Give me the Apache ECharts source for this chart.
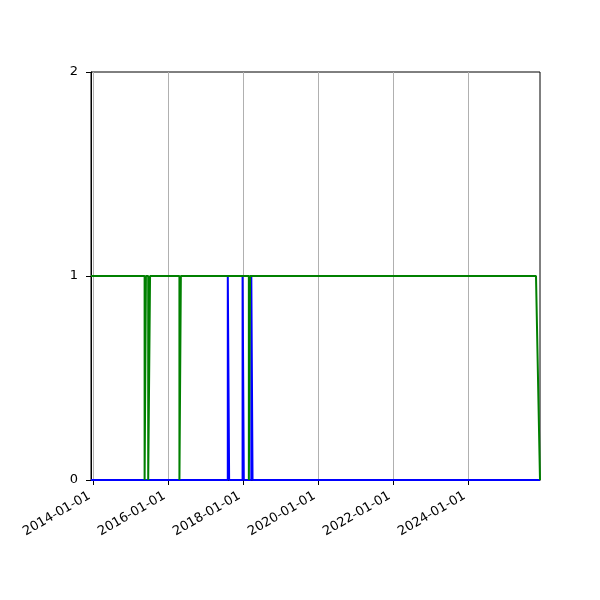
<!DOCTYPE html>
<html>
<head>
<meta charset="utf-8">
<script src="https://cdn.jsdelivr.net/npm/echarts@6/dist/echarts.min.js"></script>
<style>html,body{margin:0;padding:0;background:#fff;}#c{width:600px;height:600px;}</style>
</head>
<body>
<div id="c"></div>
<script>
var xTickLabels = ['2014-01-01','2016-01-01','2018-01-01','2020-01-01','2022-01-01','2024-01-01'];
var yTicks = [0, 1, 2];

var blueDates = ['2013-12-13','2017-08-06','2017-08-06','2017-08-19','2017-08-19','2017-12-28','2017-12-28','2018-01-09','2018-01-09','2018-03-23','2018-03-23','2018-04-04','2018-04-04','2025-12-02'];
var blueValues = [0,0,1,1,0,0,1,1,0,0,1,1,0,0];

var greenDates = ['2013-12-13','2015-05-19','2015-05-19','2015-06-01','2015-06-01','2015-06-23','2015-06-23','2015-07-11','2015-07-11','2016-04-22','2016-04-22','2016-05-06','2016-05-06','2018-02-27','2018-02-27','2018-03-11','2018-03-11','2025-10-24','2025-12-02'];
var greenValues = [1,1,0,0,1,1,0,0,1,1,0,0,1,1,0,0,1,1,0];

function ts(s) { return Date.parse(s + 'T00:00:00Z'); }
function pairs(d, v) { return d.map(function (x, i) { return [ts(x), v[i]]; }); }
var xTickValues = xTickLabels.map(ts);

var chart = echarts.init(document.getElementById('c'), null, {renderer: 'canvas'});
chart.setOption({
  animation: false,
  backgroundColor: '#fff',
  grid: {left: 91, right: 60, top: 72, bottom: 120, show: true, borderColor: '#000', borderWidth: 1, backgroundColor: 'transparent'},
  xAxis: {
    type: 'value',
    min: ts('2013-12-13'),
    max: ts('2025-12-02'),
    axisLine: {show: true, onZero: false, lineStyle: {color: '#000', width: 1}},
    axisTick: {show: true, length: 5, lineStyle: {color: '#000'}, customValues: xTickValues},
    axisLabel: {
      customValues: xTickValues,
      rotate: 30,
      margin: 13,
      padding: [0, 4, 0, 0],
      color: '#000',
      fontSize: 13,
      fontFamily: 'DejaVu Sans',
      formatter: function (val) {
        var d = new Date(val);
        var p = function (n) { return (n < 10 ? '0' : '') + n; };
        return d.getUTCFullYear() + '-' + p(d.getUTCMonth() + 1) + '-' + p(d.getUTCDate());
      }
    },
    splitLine: {show: true, lineStyle: {color: '#b0b0b0', width: 1}}
  },
  yAxis: {
    type: 'value',
    min: 0,
    max: 2,
    interval: 1,
    axisLine: {show: true, lineStyle: {color: '#000', width: 1}},
    axisTick: {show: true, length: 5, lineStyle: {color: '#000'}},
    axisLabel: {color: '#000', fontSize: 13, fontFamily: 'DejaVu Sans', margin: 13},
    splitLine: {show: false}
  },
  series: [
    {type: 'line', data: pairs(blueDates, blueValues), showSymbol: false, symbol: 'none', lineStyle: {color: '#0000ff', width: 2}, itemStyle: {color: '#0000ff'}, clip: true},
    {type: 'line', data: pairs(greenDates, greenValues), showSymbol: false, symbol: 'none', lineStyle: {color: '#008000', width: 2}, itemStyle: {color: '#008000'}, clip: true}
  ]
});
</script>
</body>
</html>
